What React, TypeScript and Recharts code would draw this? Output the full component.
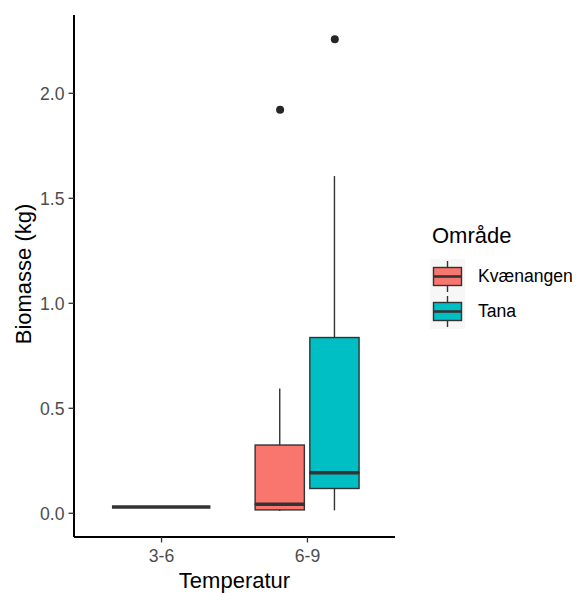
import React from "react";
import { ComposedChart, Bar, Scatter, XAxis, YAxis, Legend, Label } from "recharts";

const categories = ["3-6", "6-9"];
const areas = ["Kvænangen", "Tana"];
const areaColors = ["#F8766D", "#00BFC4"];

// one entry per box
const boxCategory = ["3-6", "6-9", "6-9"];
const boxArea = ["Kvænangen", "Kvænangen", "Tana"];
const boxMin = [0.03, 0.011, 0.014];
const boxQ1 = [0.03, 0.016, 0.118];
const boxMedian = [0.03, 0.043, 0.193];
const boxQ3 = [0.03, 0.325, 0.837];
const boxMax = [0.03, 0.594, 1.606];

const outlierCategory = ["6-9", "6-9"];
const outlierArea = ["Kvænangen", "Tana"];
const outlierValue = [1.922, 2.257];

const yTicks = [0, 0.5, 1, 1.5, 2];

const W = 578;
const H = 593;
const FONT = "'Liberation Sans', Arial, sans-serif";
const LINE = "#333333";
const MARGIN = { top: 15, right: 183, bottom: 0, left: 0 };
const Y_AXIS_W = 74;
const X_DOMAIN: [number, number] = [0.4, 2.6];
const UNIT_PX = (W - MARGIN.left - MARGIN.right - Y_AXIS_W) / (X_DOMAIN[1] - X_DOMAIN[0]);
const DODGE = 0.75;
const PAD = 0.1;

// ggplot-like dodge2: boxes of a category share the dodge width
function dodge(cat: string, area: string) {
  const group = boxCategory
    .map((c, i) => ({ c, a: boxArea[i] }))
    .filter((b) => b.c === cat)
    .sort((p, q) => areas.indexOf(p.a) - areas.indexOf(q.a));
  const n = group.length;
  const k = Math.max(0, group.findIndex((b) => b.a === area));
  const slot = DODGE / n;
  return {
    pos: categories.indexOf(cat) + 1 - DODGE / 2 + slot * (k + 0.5),
    widthUnits: slot * (1 - PAD),
  };
}

const boxes = boxCategory.map((cat, i) => {
  const d = dodge(cat, boxArea[i]);
  return {
    ...d,
    fill: areaColors[areas.indexOf(boxArea[i])],
    base: boxMin[i],
    lowWhisker: boxQ1[i] - boxMin[i],
    boxLow: boxMedian[i] - boxQ1[i],
    boxHigh: boxQ3[i] - boxMedian[i],
    highWhisker: boxMax[i] - boxQ3[i],
  };
});

const outliers = outlierValue.map((v, i) => ({
  pos: dodge(outlierCategory[i], outlierArea[i]).pos,
  value: v,
}));

const part = (kind: string) => (props: any) => {
  const { x, y, width, height, payload } = props;
  if (x == null || y == null) return <g />;
  const cx = x + width / 2;
  const w = payload.widthUnits * UNIT_PX;
  const h = Math.max(0, height || 0);
  if (kind === "base") return <g />;
  if (kind === "whisker") {
    return h > 0 ? <line x1={cx} x2={cx} y1={y} y2={y + h} stroke={LINE} strokeWidth={1.4} /> : <g />;
  }
  return (
    <g>
      <rect x={cx - w / 2} y={y} width={w} height={h} fill={payload.fill} stroke={LINE} strokeWidth={1.4} />
      {kind === "boxHigh" && (
        <line x1={cx - w / 2} x2={cx + w / 2} y1={y + h} y2={y + h} stroke={LINE} strokeWidth={3.6} />
      )}
    </g>
  );
};

const YTitle = (props: any) => {
  const { viewBox } = props;
  const cx = 23;
  const cy = viewBox.y + viewBox.height / 2 - 2;
  return (
    <text x={cx} y={cy} transform={`rotate(-90 ${cx} ${cy})`} textAnchor="middle" dominantBaseline="central"
      fontSize={22} fill="#000" fontFamily={FONT}>
      Biomasse (kg)
    </text>
  );
};

const LegendBox = () => (
  <div style={{ fontFamily: FONT, color: "#000" }}>
    <div style={{ fontSize: 22, lineHeight: "26px", paddingLeft: 2 }}>Område</div>
    <div style={{ height: 10 }} />
    {areas.map((a, i) => (
      <div key={a} style={{ display: "flex", alignItems: "center", height: 35 }}>
        <svg width={35} height={35}>
          <rect x={0} y={0} width={35} height={35} fill="#F7F7F7" />
          <line x1={17.5} x2={17.5} y1={2} y2={33} stroke={LINE} strokeWidth={1.4} />
          <rect x={3.5} y={8.5} width={28} height={18} fill={areaColors[i]} stroke={LINE} strokeWidth={1.4} />
          <line x1={3.5} x2={31.5} y1={17.5} y2={17.5} stroke={LINE} strokeWidth={2.6} />
        </svg>
        <span style={{ fontSize: 17.6, marginLeft: 13 }}>{a}</span>
      </div>
    ))}
  </div>
);

export default function App() {
  return (
    <div style={{ position: "absolute", left: 0, top: 0, width: W, height: H, background: "#fff" }}>
      <ComposedChart width={W} height={H} data={boxes} margin={MARGIN}>
        <XAxis
          type="number"
          dataKey="pos"
          domain={X_DOMAIN}
          ticks={[1, 2]}
          interval={0}
          allowDataOverflow
          tickFormatter={(v: number) => categories[Math.round(v) - 1]}
          height={593 - 15 - 522}
          tickSize={5.5}
          tickMargin={7}
          axisLine={{ stroke: "#000", strokeWidth: 2 }}
          tickLine={{ stroke: LINE, strokeWidth: 1.3 }}
          tick={{ fill: "#4D4D4D", fontSize: 17.6, fontFamily: FONT }}
        >
          <Label value="Temperatur" position="insideBottom" offset={5}
            style={{ fontSize: 22, fill: "#000", fontFamily: FONT }} />
        </XAxis>
        <YAxis
          type="number"
          domain={[-0.113, 2.373]}
          ticks={yTicks}
          interval={0}
          allowDataOverflow
          width={Y_AXIS_W}
          tickFormatter={(v: number) => v.toFixed(1)}
          tickSize={5.5}
          tickMargin={4}
          axisLine={{ stroke: "#000", strokeWidth: 2 }}
          tickLine={{ stroke: LINE, strokeWidth: 1.3 }}
          tick={{ fill: "#4D4D4D", fontSize: 17.6, fontFamily: FONT }}
        >
          <Label content={<YTitle />} />
        </YAxis>
        <Bar dataKey="base" stackId="b" barSize={20} isAnimationActive={false} shape={part("base")} />
        <Bar dataKey="lowWhisker" stackId="b" barSize={20} isAnimationActive={false} shape={part("whisker")} />
        <Bar dataKey="boxLow" stackId="b" barSize={20} isAnimationActive={false} shape={part("boxLow")} />
        <Bar dataKey="boxHigh" stackId="b" barSize={20} isAnimationActive={false} shape={part("boxHigh")} />
        <Bar dataKey="highWhisker" stackId="b" barSize={20} isAnimationActive={false} shape={part("whisker")} />
        <Scatter
          data={outliers}
          dataKey="value"
          isAnimationActive={false}
          shape={(p: any) => <circle cx={p.cx} cy={p.cy} r={4} fill="#262626" />}
        />
        <Legend
          layout="vertical"
          align="center"
          verticalAlign="middle"
          content={<LegendBox />}
          wrapperStyle={{ left: 430, top: 223, width: 148 }}
        />
      </ComposedChart>
    </div>
  );
}
